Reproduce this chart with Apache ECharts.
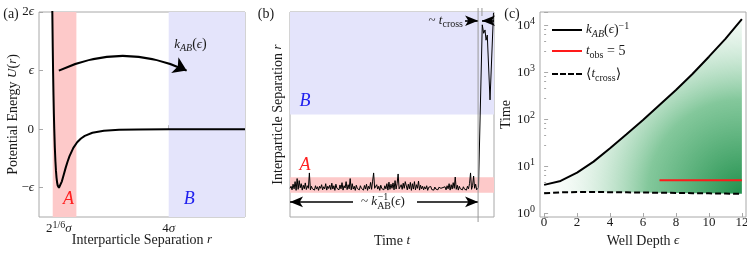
<!DOCTYPE html>
<html><head><meta charset="utf-8">
<script src="https://cdn.jsdelivr.net/npm/echarts@6/dist/echarts.min.js"></script>
<style>html,body{margin:0;padding:0;background:#fff}#c{width:747px;height:259px}</style>
</head><body><div id="c"></div><script>
// ---------- Panel (a): potential energy ----------
const ljR = [0.945,0.95,0.96,0.97,0.98,0.99,1.0,1.015,1.03,1.045,1.06,1.075,1.09,1.105,1.1225,1.14,1.16,1.2,1.25,1.3,1.35,1.4,1.5,1.6,1.7,1.8,2.0,2.3,2.7,3.2,4,5,6];
const ljU = [2.27,1.96,1.41,0.96,0.58,0.26,0,-0.313,-0.544,-0.713,-0.832,-0.912,-0.963,-0.990,-1,-0.992,-0.968,-0.891,-0.774,-0.657,-0.552,-0.461,-0.320,-0.224,-0.159,-0.114,-0.062,-0.027,-0.010,-0.004,-0.001,-0.0003,-0.0001];
const bandA_a = [0.96, 1.58];
const bandB_a = [4, 6];
const aYTicks = [-1, 0, 1, 2];
const aYLabels = ['\u2212{i|\u03f5}', '0', '{i|\u03f5}', '2{i|\u03f5}'];
const aXTicks = [1.1225, 4];
const aXLabels = ['2{sup|1/6}{i|\u03c3}', '4{i|\u03c3}'];
const arrowA = [[1.12, 1.0], [4.47, 1.0]];

// ---------- Panel (b): trajectory (time in sample units) ----------
const traceR = [
  1.12,1.20,1.06,1.28,1.10,1.38,1.04,1.50,1.08,1.42,
  1.14,1.30,1.05,1.24,1.10,1.33,1.07,1.22,1.12,1.72,
  1.06,1.20,1.10,1.16,1.05,1.22,1.09,1.18,1.04,1.20,
  1.12,1.26,1.06,1.18,1.10,1.30,1.05,1.20,1.11,1.24,
  1.07,1.32,1.09,1.22,1.04,1.28,1.12,1.18,1.06,1.25,
  1.10,1.34,1.05,1.22,1.13,1.38,1.07,1.26,1.10,1.50,
  1.06,1.30,1.09,1.20,1.04,1.24,1.11,1.17,1.06,1.22,
  1.12,1.19,1.05,1.23,1.09,1.28,1.04,1.20,1.10,1.35,
  1.08,1.40,1.72,1.12,1.05,1.26,1.09,1.20,1.04,1.24,
  1.11,1.18,1.06,1.22,1.10,1.30,1.05,1.36,1.08,1.28,
  1.12,1.33,1.06,1.42,1.09,1.30,1.68,1.10,1.05,1.26,
  1.08,1.32,1.12,1.38,1.45,1.06,1.28,1.10,1.35,1.04,
  1.30,1.09,1.38,1.06,1.26,1.12,1.40,1.05,1.24,1.10,
  1.20,1.06,1.18,1.09,1.22,1.04,1.16,1.10,1.19,1.07,
  1.14,1.05,1.17,1.09,1.13,1.06,1.16,1.10,1.12,1.05,
  1.15,1.08,1.18,1.06,1.22,1.10,1.30,1.05,1.26,1.09,
  1.34,1.12,1.56,1.08,1.24,1.05,1.20,1.10,1.16,1.06,
  1.18,1.09,1.14,1.05,1.20,1.10,1.30,1.72,1.08,1.22,
  1.60,1.12,1.28,1.06,1.12];
const jumpT = [184.8, 188.5, 189.9, 191.2, 192.2, 193.4, 196.1, 199.5];
const jumpR = [1.15, 7.5, 7.17, 7.3, 6.9, 7.1, 4.57, 7.97];
const bandA_b = [0.95, 1.55];
const bandB_b = [4, 8];
const tEscape = 184.4, tEnter = 188.2;

// ---------- Panel (c): times vs well depth ----------
const eps = [0,1,2,3,4,5,6,7,8,9,10,11,12];
const kInv = [4.0,4.86,7.3,12.5,24,47.5,96,200,417,910,2130,5100,13400];
const tCross = [2.65,2.78,2.82,2.82,2.80,2.78,2.75,2.72,2.70,2.67,2.64,2.61,2.58];
const tObsEps = [7, 12];
const tObs = 5;
const cXTicks = [0,2,4,6,8,10,12];

const FF = '"Liberation Serif","DejaVu Serif","Times New Roman",serif';
const TC = '#1a1a1a';
const FR = '#a8a8a8';
const rich = {
  i: {fontFamily: FF, fontStyle: 'italic', fontSize: 13, lineHeight: 18, color: TC},
  n: {fontFamily: FF, fontSize: 13, lineHeight: 18, color: TC},
  sub: {fontFamily: FF, fontSize: 10, lineHeight: 10, verticalAlign: 'bottom', color: TC},
  isub: {fontFamily: FF, fontStyle: 'italic', fontSize: 10, lineHeight: 10, verticalAlign: 'bottom', color: TC},
  sup: {fontFamily: FF, fontSize: 10, lineHeight: 10, verticalAlign: 'top', color: TC}
};
const base = {fontFamily: FF, fontSize: 13, lineHeight: 18, color: TC, rich: rich};
const big = Object.assign({}, base, {fontSize: 14});

const grids = [
  {left: 39, top: 12, width: 206, height: 205},
  {left: 290, top: 12, width: 204, height: 205},
  {left: 540, top: 12, width: 206, height: 205}
].map(g => Object.assign({show: true, borderColor: FR, borderWidth: 1, backgroundColor: 'transparent',
  containLabel: false, outerBoundsMode: 'none'}, g));

const tickStyle = {show: true, inside: true, length: 4, lineStyle: {color: FR}};
const nm = {nameLocation: 'middle', nameMoveOverlap: false, nameTextStyle: big};

const option = {
  animation: false,
  grid: grids,
  xAxis: [
    Object.assign({gridIndex: 0, type: 'value', min: 0.6, max: 6, axisLine: {show: false}, splitLine: {show: false},
     axisTick: Object.assign({customValues: aXTicks}, tickStyle),
     axisLabel: Object.assign({customValues: aXTicks, margin: 3, formatter: v => aXLabels[aXTicks.indexOf(v)] || ''}, base),
     name: 'Interparticle Separation {i|r}', nameGap: 14}, nm),
    Object.assign({gridIndex: 1, type: 'value', min: 0, max: 200, axisLine: {show: false}, splitLine: {show: false},
     axisTick: {show: false}, axisLabel: {show: false},
     name: 'Time {i|t}', nameGap: 15}, nm),
    Object.assign({gridIndex: 2, type: 'value', min: -0.25, max: 12.25, axisLine: {show: false}, splitLine: {show: false},
     axisTick: Object.assign({customValues: cXTicks}, tickStyle),
     axisLabel: Object.assign({customValues: cXTicks}, base, {margin: -1, lineHeight: 13}),
     name: 'Well Depth {i|\u03f5}', nameGap: 15}, nm)
  ],
  yAxis: [
    Object.assign({gridIndex: 0, type: 'value', min: -1.5, max: 2, axisLine: {show: false}, splitLine: {show: false},
     axisTick: Object.assign({customValues: aYTicks}, tickStyle),
     axisLabel: Object.assign({customValues: aYTicks, margin: 5, formatter: v => aYLabels[aYTicks.indexOf(v)]}, base),
     name: 'Potential Energy {i|U}({i|r})', nameGap: 17}, nm),
    Object.assign({gridIndex: 1, type: 'value', min: 0, max: 8, axisLine: {show: false}, splitLine: {show: false},
     axisTick: {show: false}, axisLabel: {show: false},
     name: 'Interparticle Separation {i|r}', nameGap: 3}, nm),
    Object.assign({gridIndex: 2, type: 'log', logBase: 10, min: 0.83, max: 19000, axisLine: {show: false}, splitLine: {show: false},
     axisTick: tickStyle, minorTick: {show: true, splitNumber: 5, length: 2, lineStyle: {color: FR}},
     axisLabel: Object.assign({margin: 5, formatter: v => {
        const l = Math.log10(v), e = Math.round(l);
        return Math.abs(l - e) < 1e-6 ? '10{sup|' + e + '}' : '';
     }}, base),
     name: 'Time', nameGap: 25}, nm)
  ],
  legend: [
    {data: [{name: 'k', icon: 'path://M0,0H30V2H0Z'}], top: 21},
    {data: [{name: 'tobs', icon: 'path://M0,0H30V2H0Z'}], top: 42},
    {data: [{name: 'tcross', icon: 'path://M0,0H6V2H0Z M8,0H14V2H8Z M16,0H22V2H16Z M24,0H30V2H24Z'}], top: 65}
  ].map(l => Object.assign({left: 552, itemWidth: 30, itemHeight: 2, itemGap: 0, selectedMode: false, padding: 0,
      textStyle: Object.assign({}, big, {padding: [0, 0, 0, -1]}),
      formatter: n => ({k: '{i|k}{isub|AB}({i|\u03f5}){sup|\u22121}', tobs: '{i|t}{sub|obs} = 5', tcross: '\u27e8{i|t}{sub|cross}\u27e9'})[n]}, l)),
  series: [
    // (a)
    {type: 'line', xAxisIndex: 0, yAxisIndex: 0, data: ljR.map((r, i) => [r, ljU[i]]), symbol: 'none',
     lineStyle: {color: '#000', width: 2}, z: 5, clip: true,
     markArea: {silent: true, itemStyle: {color: '#fdc9c9'}, data: [
       [{xAxis: bandA_a[0]}, {xAxis: bandA_a[1]}]]}},
    {type: 'line', xAxisIndex: 0, yAxisIndex: 0, data: [], symbol: 'none',
     markArea: {silent: true, itemStyle: {color: '#e4e4fb'}, data: [[{xAxis: bandB_a[0]}, {xAxis: bandB_a[1]}]]}},
    {type: 'lines', coordinateSystem: 'cartesian2d', xAxisIndex: 0, yAxisIndex: 0, z: 6, silent: true,
     symbol: ['none', 'arrow'], symbolSize: [9, 13],
     lineStyle: {color: '#000', width: 2, opacity: 1, curveness: 0.23},
     data: [{coords: arrowA}]},
    // (b)
    {type: 'line', xAxisIndex: 1, yAxisIndex: 1, symbol: 'none', z: 5,
     data: traceR.map((r, i) => [i, r]).concat(jumpT.map((t, i) => [t, jumpR[i]])),
     lineStyle: {color: '#000', width: 1},
     markArea: {silent: true, data: [
       [{yAxis: bandA_b[0], itemStyle: {color: '#fdc9c9'}}, {yAxis: bandA_b[1]}],
       [{yAxis: bandB_b[0], itemStyle: {color: '#e4e4fb'}}, {yAxis: bandB_b[1]}]]},
     markLine: {silent: true, symbolSize: [8, 13], label: {show: false},
       lineStyle: {color: '#000', width: 1.6, type: 'solid'},
       data: [
         [{coord: [61.8, 0.59], symbol: 'none'}, {coord: [0, 0.59], symbol: 'arrow'}],
         [{coord: [124.5, 0.59], symbol: 'none'}, {coord: [tEscape, 0.59], symbol: 'arrow'}],
         [{coord: [171.6, 7.66], symbol: 'none'}, {coord: [tEscape, 7.66], symbol: 'arrow'}],
         [{coord: [200, 7.66], symbol: 'none'}, {coord: [tEnter, 7.66], symbol: 'arrow'}]
       ]}},
    // (c)
    {type: 'custom', xAxisIndex: 2, yAxisIndex: 2, z: 1, silent: true, data: [[0, 1]],
     renderItem: (params, api) => {
       const top = eps.map((e, i) => api.coord([e, kInv[i]]));
       const bot = eps.map((e, i) => api.coord([e, tCross[i]])).reverse();
       return {type: 'polygon', shape: {points: top.concat(bot)},
         style: {fill: new echarts.graphic.RadialGradient(1, 1, 1.2, [
           {offset: 0, color: 'rgba(34,145,78,1)'}, {offset: 0.45, color: 'rgba(110,190,138,0.85)'},
           {offset: 1, color: 'rgba(255,255,255,0)'}])}};
     }},
    {name: 'k', type: 'line', xAxisIndex: 2, yAxisIndex: 2, symbol: 'none', z: 5,
     data: eps.map((e, i) => [e, kInv[i]]), lineStyle: {color: '#000', width: 2}, itemStyle: {color: '#000'}},
    {name: 'tobs', type: 'line', xAxisIndex: 2, yAxisIndex: 2, symbol: 'none', z: 5,
     data: tObsEps.map(e => [e, tObs]), lineStyle: {color: '#ff1a1a', width: 2}, itemStyle: {color: '#ff1a1a'}},
    {name: 'tcross', type: 'line', xAxisIndex: 2, yAxisIndex: 2, symbol: 'none', z: 5,
     data: eps.map((e, i) => [e, tCross[i]]), lineStyle: {color: '#000', width: 2, type: [6, 3]}, itemStyle: {color: '#000'}}
  ]
};

const chart = echarts.init(document.getElementById('c'), null, {renderer: 'canvas'});
chart.setOption(option);

const P = (g, x, y) => chart.convertToPixel({gridIndex: g}, [x, y]);
const txt = (pos, text, extra) => ({type: 'text', x: pos[0], y: pos[1], silent: true, z: 100,
  style: Object.assign({text: text, font: '13px ' + FF, fill: TC, align: 'center', verticalAlign: 'middle', rich: rich}, extra || {})});
const bigA = {font: 'italic 18px ' + FF, fill: '#ff2020'};
const bigB = {font: 'italic 18px ' + FF, fill: '#2020ee'};
const pb1 = P(1, tEscape, 8), pb2 = P(1, tEnter, 8), pb0 = P(1, tEscape, 0);

// k^{-1}_AB label: main text left-aligned, superscript placed above the subscript
const mctx = document.createElement('canvas').getContext('2d');
const mw = (s, f) => { mctx.font = f; return mctx.measureText(s).width; };
const wTilde = mw('~ ', '13px ' + FF), wK = mw('k', 'italic 13px ' + FF);
const wAB = mw('AB', '10px ' + FF), wEps = mw('(\u03f5)', '13px ' + FF);
const kLabW = wTilde + wK + wAB + wEps;
const kc = P(1, 91.2, 0.59);
const kx0 = kc[0] - kLabW / 2;

chart.setOption({graphic: [
  txt([11, 14], '(a)', {font: '14px ' + FF}),
  txt([266, 14], '(b)', {font: '14px ' + FF}),
  txt([512, 14], '(c)', {font: '14px ' + FF}),
  txt(P(0, 1.37, -1.2), 'A', bigA),
  txt(P(0, 4.54, -1.2), 'B', bigB),
  txt(P(0, 4.57, 1.45), '{i|k}{isub|AB}({i|\u03f5})', {font: '14px ' + FF}),
  txt(P(1, 14.7, 2.0), 'A', bigA),
  txt(P(1, 14.7, 4.53), 'B', bigB),
  txt([kx0, kc[1]], '~ {i|k}{sub|AB}({i|\u03f5})', {align: 'left'}),
  txt([kx0 + wTilde + wK + 0.5, kc[1] - 5], '\u22121', {align: 'left', font: '10px ' + FF}),
  txt(P(1, 169.6, 7.66), '~ {i|t}{sub|cross}', {align: 'right'}),
  {type: 'line', silent: true, z: 50, shape: {x1: pb1[0], y1: pb1[1] - 4, x2: pb0[0], y2: pb0[1] + 5}, style: {stroke: '#999', lineWidth: 1}},
  {type: 'line', silent: true, z: 50, shape: {x1: pb2[0], y1: pb2[1] - 4, x2: pb2[0], y2: pb2[1] + 4}, style: {stroke: '#999', lineWidth: 1}}
]});
</script></body></html>
